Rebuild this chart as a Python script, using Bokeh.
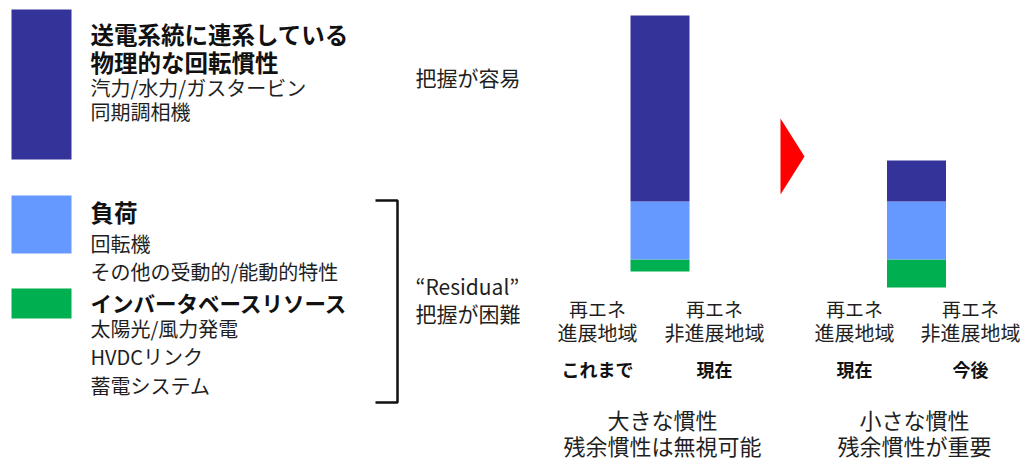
from bokeh.plotting import figure
from bokeh.models import Range1d
from bokeh.core.properties import value
from bokeh.embed import file_html
from bokeh.resources import INLINE

# ---------------- data ----------------
col_line1 = ["再エネ", "再エネ", "再エネ", "再エネ"]
col_line2 = ["進展地域", "非進展地域", "進展地域", "非進展地域"]
col_when = ["これまで", "現在", "現在", "今後"]
scenario_line1 = ["大きな慣性", "小さな慣性"]
scenario_line2 = ["残余慣性は無視可能", "残余慣性が重要"]
stack_names = ["送電系統に連系している物理的な回転慣性", "負荷", "インバータベースリソース"]
synchronous = [93, 20.5]   # dark blue segment
load = [29, 29]            # light blue segment
ibr = [6, 14]              # green segment
base = [8, 0]

legend_heads = [["送電系統に連系している", "物理的な回転慣性"], ["負荷"], ["インバータベースリソース"]]
legend_subs = [["汽力/水力/ガスタービン", "同期調相機"],
               ["回転機", "その他の受動的/能動的特性"],
               ["太陽光/風力発電", "HVDCリンク", "蓄電システム"]]

C_DARK = "#333399"
C_LIGHT = "#6699FF"
C_GREEN = "#00B050"
TXT = "#1f1f1f"
FONT = value("Noto Sans CJK JP")

W, H = 1023, 461


def Y(py):
    return (287 - py) / 2.0


p = figure(width=W, height=H, x_range=Range1d(0, W), y_range=Range1d(Y(H), Y(0)),
           output_backend="svg", toolbar_location=None, min_border=0)
p.axis.visible = False
p.grid.visible = False
p.outline_line_color = None
p.background_fill_color = "white"
p.border_fill_color = "white"

# ---------------- bars ----------------
bar_x = [659.5, 916]
bar_w = 59
g_top = [b + g for b, g in zip(base, ibr)]
l_top = [t + l for t, l in zip(g_top, load)]
d_top = [t + s for t, s in zip(l_top, synchronous)]
p.vbar(x=bar_x, bottom=base, top=g_top, width=bar_w, fill_color=C_GREEN, line_color=None)
p.vbar(x=bar_x, bottom=g_top, top=l_top, width=bar_w, fill_color=C_LIGHT, line_color=None)
p.vbar(x=bar_x, bottom=l_top, top=d_top, width=bar_w, fill_color=C_DARK, line_color=None)

# ---------------- legend swatches ----------------
sw_top = [9, 195, 288]
sw_bot = [159, 253, 318]
p.quad(left=[11, 11, 11], right=[71, 71, 71], top=[Y(t) for t in sw_top], bottom=[Y(b) for b in sw_bot],
       fill_color=[C_DARK, C_LIGHT, C_GREEN], line_color=None)

# legend texts
head_y = [[33, 61], [211], [302]]
head_fs = [["23.5px", "23.5px"], ["23.5px"], ["21.5px"]]
sub_y = [[87, 111], [243, 271], [328, 356, 385]]
for i in range(3):
    for t, yy, fs in zip(legend_heads[i], head_y[i], head_fs[i]):
        p.text(x=[90], y=[Y(yy)], text=[t], text_font=FONT, text_font_size=fs, text_font_style="bold",
               text_color="#111111", text_align="left", text_baseline="middle")
    for t, yy in zip(legend_subs[i], sub_y[i]):
        p.text(x=[90], y=[Y(yy)], text=[t], text_font=FONT, text_font_size="20px",
               text_color=TXT, text_align="left", text_baseline="middle")

# bracket
p.line(x=[375, 397, 397, 375], y=[Y(200), Y(200), Y(402), Y(402)], line_color="#111111", line_width=2.5)

# middle notes
p.text(x=[415], y=[Y(76)], text=["把握が容易"], text_font=FONT, text_font_size="21px",
       text_color=TXT, text_align="left", text_baseline="middle")
p.text(x=[415, 415], y=[Y(285), Y(312)], text=["“Residual”", "把握が困難"], text_font=FONT,
       text_font_size="21px", text_color=TXT, text_align="left", text_baseline="middle")

# red arrow
p.patch(x=[780, 780, 804], y=[Y(118), Y(194), Y(156)], fill_color="#FF0000", line_color=None)

# column labels
col_x = [597, 714, 854, 970]
p.text(x=col_x, y=[Y(308)] * 4, text=col_line1, text_font=FONT, text_font_size="19px",
       text_color=TXT, text_align="center", text_baseline="middle")
p.text(x=col_x, y=[Y(332)] * 4, text=col_line2, text_font=FONT, text_font_size="20px",
       text_color=TXT, text_align="center", text_baseline="middle")
p.text(x=col_x, y=[Y(368)] * 4, text=col_when, text_font=FONT, text_font_size="18px",
       text_font_style="bold", text_color="#111111", text_align="center", text_baseline="middle")

# scenario labels
sc_x = [662, 914]
p.text(x=sc_x, y=[Y(418)] * 2, text=scenario_line1, text_font=FONT, text_font_size="22px",
       text_color=TXT, text_align="center", text_baseline="middle")
p.text(x=sc_x, y=[Y(444)] * 2, text=scenario_line2, text_font=FONT, text_font_size="22px",
       text_color=TXT, text_align="center", text_baseline="middle")

open("out.html", "w").write(file_html(p, INLINE))
